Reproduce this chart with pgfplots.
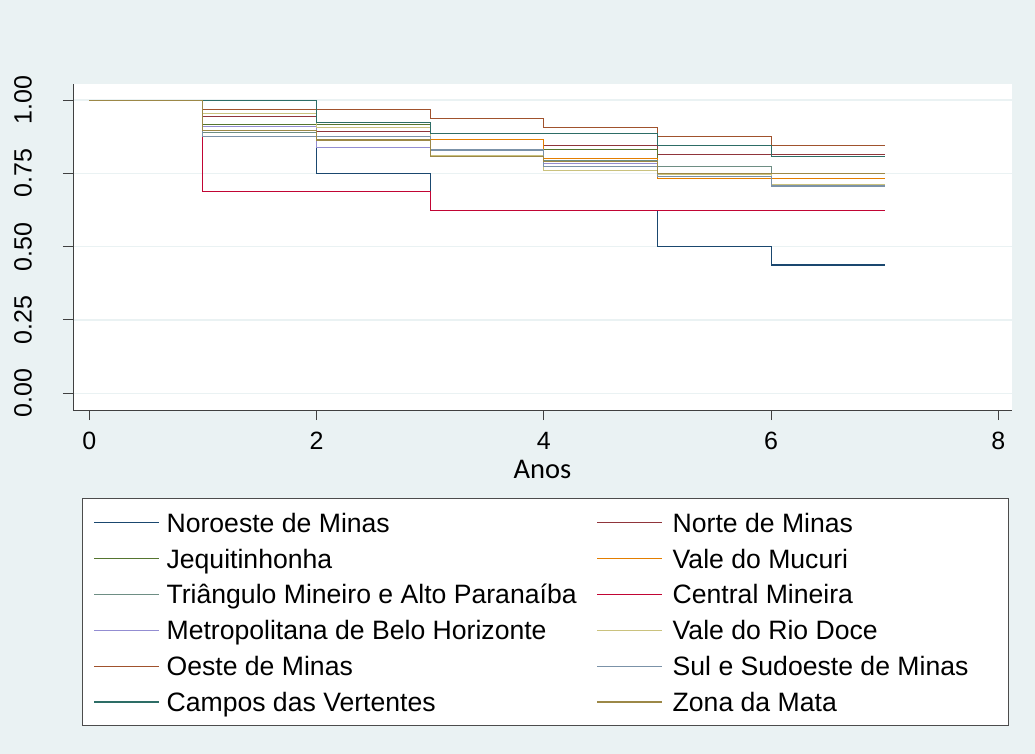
\documentclass[border=0pt]{standalone}
\usepackage{fontspec}
\setmainfont{Liberation Sans}
\newfontfamily\anosfont{Carlito}
\usepackage{pgfplots}
\pgfplotsset{compat=1.18}

% Stata s2color scheme colours
\definecolor{stbg}{RGB}{234,242,243}
\definecolor{cNavy}{RGB}{26,71,111}
\definecolor{cMaroon}{RGB}{144,53,59}
\definecolor{cForest}{RGB}{85,117,47}
\definecolor{cDkorange}{RGB}{227,126,0}
\definecolor{cTeal}{RGB}{110,142,132}
\definecolor{cCranberry}{RGB}{193,5,52}
\definecolor{cLavender}{RGB}{147,141,210}
\definecolor{cKhaki}{RGB}{202,194,126}
\definecolor{cSienna}{RGB}{160,82,45}
\definecolor{cEmidblue}{RGB}{123,146,168}
\definecolor{cEmerald}{RGB}{45,109,102}
\definecolor{cBrown}{RGB}{156,136,71}

% legend entries: left and right column
\newcommand\legA[1]{\hspace*{7bp}\makebox[430bp][l]{#1}}
\newcommand\legB[1]{\hspace*{10bp}\makebox[325bp][l]{#1}}

\begin{document}
\begin{tikzpicture}
\fill[stbg] (0bp,0bp) rectangle (1035bp,754bp);
\begin{axis}[
  at={(73bp,344bp)}, anchor=south west,
  scale only axis, width=939bp, height=326bp,
  xmin=-0.143, xmax=8.12, ymin=-0.057, ymax=1.055,
  axis x line*=bottom, axis y line*=left,
  axis line style={black!75, line width=1bp, -},
  axis background/.style={fill=white},
  xtick={0,2,4,6,8},
  ytick={0,0.25,0.5,0.75,1},
  tick align=outside,
  major tick length=10bp,
  tick style={black!75, line width=1bp},
  ymajorgrids,
  grid style={stbg, line width=1.5bp},
  /pgf/number format/assume math mode=true,
  yticklabel style={/pgf/number format/fixed, /pgf/number format/fixed zerofill,
    /pgf/number format/precision=2},
  xticklabel style={anchor=base, font=\fontsize{25bp}{30bp}\selectfont},
  yticklabel style={rotate=90, anchor=base, font=\fontsize{25bp}{30bp}\selectfont},
  xticklabel shift=29.3bp,
  yticklabel shift=31.4bp,
  xlabel={Anos},
  xlabel style={font=\anosfont\fontsize{28.5bp}{34bp}\selectfont,
    at={(axis description cs:0.5,-0.2095)}, anchor=base},
  legend columns=2,
  legend image code/.code={\draw[#1] (0bp,0bp) -- (65bp,0bp);},
  legend style={
    at={(axis description cs:0.00958,-0.26994)}, anchor=north west,
    draw=black!70, line width=1bp, fill=white,
    inner xsep=11bp, inner ysep=6bp,
    column sep=0pt, row sep=0pt,
    cells={anchor=west},
    nodes={inner sep=0pt, text depth=8.3bp, text height=27.6bp},
    font=\fontsize{26.6bp}{32bp}\selectfont,
  },
  every axis plot/.append style={const plot, line width=1.1bp},
]
\addplot[cNavy] coordinates {(0,1) (1,0.875) (2,0.75) (3,0.625) (4,0.625) (5,0.5) (6,0.4375) (7,0.4375)};
\addlegendentry{\legA{Noroeste de Minas}}
\addplot[cMaroon] coordinates {(0,1) (1,0.945) (2,0.894) (3,0.867) (4,0.844) (5,0.815) (6,0.815) (7,0.815)};
\addlegendentry{\legB{Norte de Minas}}
\addplot[cForest] coordinates {(0,1) (1,0.917) (2,0.917) (3,0.833) (4,0.833) (5,0.75) (6,0.75) (7,0.75)};
\addlegendentry{\legA{Jequitinhonha}}
\addplot[cDkorange] coordinates {(0,1) (1,1) (2,0.867) (3,0.867) (4,0.8) (5,0.733) (6,0.733) (7,0.733)};
\addlegendentry{\legB{Vale do Mucuri}}
\addplot[cTeal] coordinates {(0,1) (1,0.89) (2,0.876) (3,0.83) (4,0.793) (5,0.774) (6,0.71) (7,0.71)};
\addlegendentry{\legA{Triângulo Mineiro e Alto Paranaíba}}
\addplot[cCranberry] coordinates {(0,1) (1,0.6875) (2,0.6875) (3,0.625) (4,0.625) (5,0.625) (6,0.625) (7,0.625)};
\addlegendentry{\legB{Central Mineira}}
\addplot[cLavender] coordinates {(0,1) (1,0.909) (2,0.839) (3,0.81) (4,0.785) (5,0.745) (6,0.707) (7,0.707)};
\addlegendentry{\legA{Metropolitana de Belo Horizonte}}
\addplot[cKhaki] coordinates {(0,1) (1,0.953) (2,0.906) (3,0.81) (4,0.761) (5,0.745) (6,0.711) (7,0.711)};
\addlegendentry{\legB{Vale do Rio Doce}}
\addplot[cSienna] coordinates {(0,1) (1,0.969) (2,0.969) (3,0.9375) (4,0.906) (5,0.875) (6,0.844) (7,0.844)};
\addlegendentry{\legA{Oeste de Minas}}
\addplot[cEmidblue] coordinates {(0,1) (1,0.875) (2,0.876) (3,0.83) (4,0.775) (5,0.74) (6,0.707) (7,0.707)};
\addlegendentry{\legB{Sul e Sudoeste de Minas}}
\addplot[cEmerald] coordinates {(0,1) (1,1) (2,0.923) (3,0.885) (4,0.885) (5,0.846) (6,0.808) (7,0.808)};
\addlegendentry{\legA{Campos das Vertentes}}
\addplot[cBrown] coordinates {(0,1) (1,0.895) (2,0.864) (3,0.807) (4,0.79) (5,0.75) (6,0.75) (7,0.75)};
\addlegendentry{\legB{Zona da Mata}}
\end{axis}
\pgfresetboundingbox
\useasboundingbox (0bp,0bp) rectangle (1035bp,754bp);
\end{tikzpicture}
\end{document}
